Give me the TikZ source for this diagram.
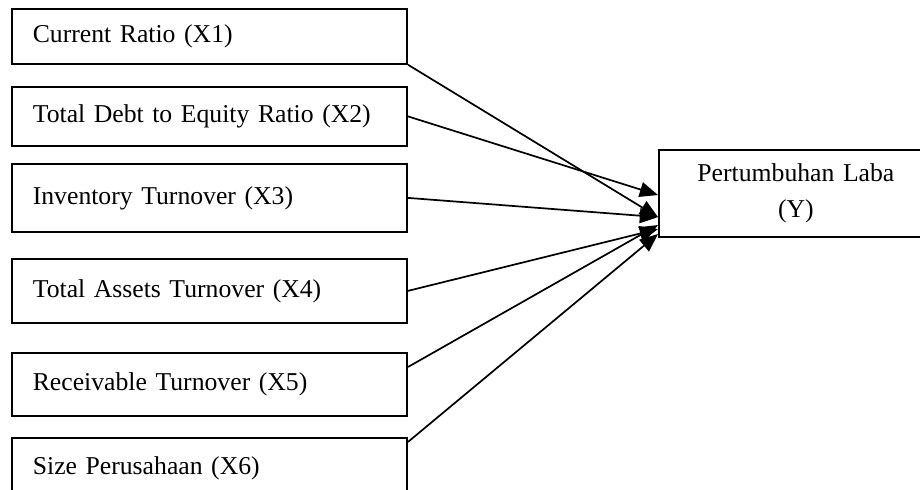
\documentclass[tikz,border=0pt]{standalone}
\usepackage{fontspec}
\setmainfont{Liberation Serif}
\usetikzlibrary{arrows.meta}
\tikzset{
  var/.style={draw,line width=0.8pt,anchor=north west,align=left,text width=165pt,inner xsep=9.8pt,font=\fontsize{12pt}{14.5pt}\selectfont},
  dep/.style={draw,line width=0.8pt,anchor=north west,align=center,text width=110pt,inner xsep=9pt,minimum height=40.6pt,font=\fontsize{12pt}{14.5pt}\selectfont},
  link/.style={line width=0.8pt,-{Triangle[length=8.5pt,width=7pt]}}
}
\begin{document}
\begin{tikzpicture}[x=0.467pt,y=-0.467pt]
	\useasboundingbox (0,0) rectangle (920,490);
	% independent variables
	\node[var,minimum height=25.7pt] (x1) at (11,8) {Current Ratio (X1)};
	\node[var,minimum height=27.6pt] (x2) at (11,86) {Total Debt to Equity Ratio (X2)};
	\node[var,minimum height=31.8pt] (x3) at (11,163) {Inventory Turnover (X3)};
	\node[var,minimum height=29.9pt] (x4) at (11,258) {Total Assets Turnover (X4)};
	\node[var,minimum height=29.4pt] (x5) at (11,352) {Receivable Turnover (X5)};
	\node[var,minimum height=28pt] (x6) at (11,437) {Size Perusahaan (X6)};
	% dependent variable
	\node[dep] (y) at (658,149) {Pertumbuhan Laba\\[2pt](Y)};
	% paths
	\draw[link] (x1.south east) -- ([yshift=-31.8pt]y.north west);
	\draw[link] (x2.east) -- ([yshift=-21.5pt]y.north west);
	\draw[link] (x3.east) -- ([yshift=-31.8pt]y.north west);
	\draw[link] (x4.east) -- ([yshift=-37.4pt]y.north west);
	\draw[link] ([yshift=-7pt]x5.north east) -- ([yshift=-35.5pt]y.north west);
	\draw[link] ([yshift=-2.3pt]x6.north east) -- ([yshift=-39.7pt]y.north west);
\end{tikzpicture}
\end{document}
